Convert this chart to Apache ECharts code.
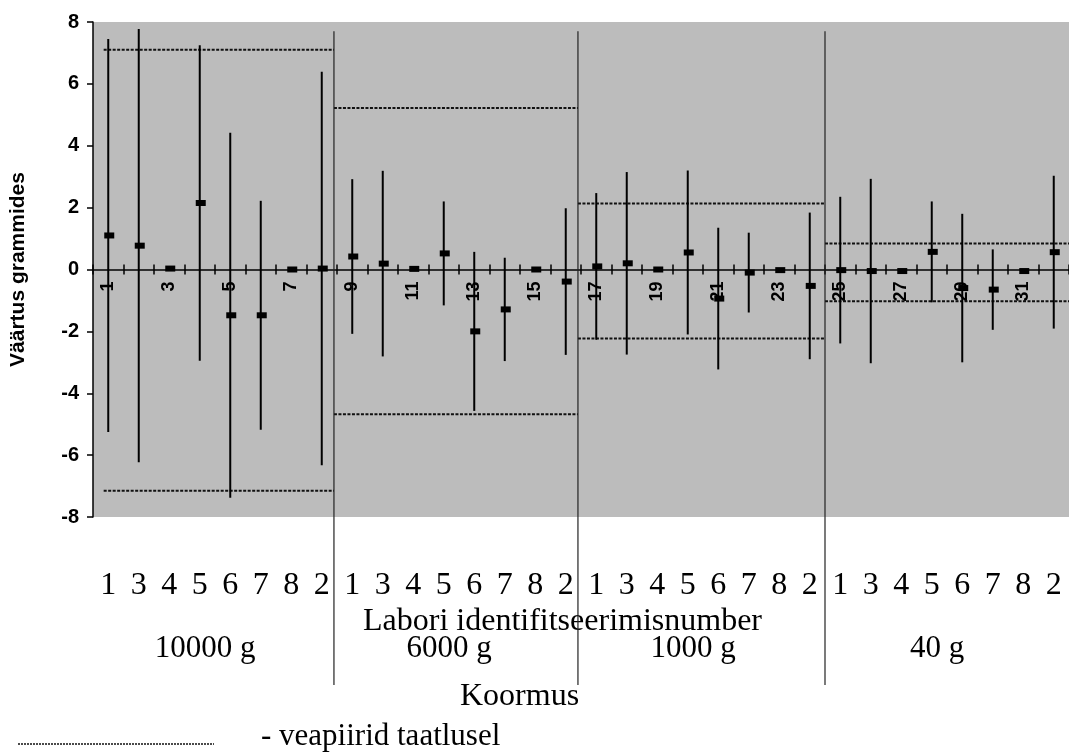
<!DOCTYPE html>
<html>
<head>
<meta charset="utf-8">
<script src="https://cdn.jsdelivr.net/npm/echarts@6/dist/echarts.min.js"></script>
<style>
html,body{margin:0;padding:0;background:#fff;}
#chart{width:1069px;height:752px;}
</style>
</head>
<body>
<div id="chart"></div>
<script>
// x tick labels (every other one is shown)
const tickLabels = ['1','2','3','4','5','6','7','8','9','10','11','12','13','14','15','16',
                    '17','18','19','20','21','22','23','24','25','26','27','28','29','30','31','32'];
// laboratory identification numbers under the axis
const labIds = ['1','3','4','5','6','7','8','2',
                '1','3','4','5','6','7','8','2',
                '1','3','4','5','6','7','8','2',
                '1','3','4','5','6','7','8','2'];
// loads (groups)
const loads = ['10000 g','6000 g','1000 g','40 g'];
// measured deviation (g)
const values = [1.10, 0.77, 0.03, 2.15, -1.48, -1.48, 0.00, 0.03,
                0.42, 0.19, 0.02, 0.52, -2.00, -1.29, 0.00, -0.39,
                0.10, 0.20, 0.00, 0.55, -0.94, -0.10, -0.02, -0.53,
                -0.02, -0.05, -0.05, 0.57, -0.60, -0.65, -0.05, 0.56];
// expanded uncertainty (g)
const errors = [6.35, 7.00, 0, 5.10, 5.90, 3.70, 0, 6.36,
                2.50, 3.00, 0, 1.68, 2.57, 1.67, 0, 2.37,
                2.37, 2.95, 0, 2.65, 2.29, 1.29, 0, 2.37,
                2.37, 2.98, 0, 1.63, 2.40, 1.30, 0, 2.47];
// verification error limits per load group
const limitUpper = [7.10, 5.22, 2.13, 0.84];
const limitLower = [-7.15, -4.68, -2.23, -1.03];
const limitStart = [0.35, 7.9, 15.9, 24];
const limitEnd = [7.9, 15.9, 24, 32];
// group separators (axis units) and their top value
const separators = [7.9, 15.9, 24];
const separatorTop = 7.7;

const legendName = '- veapiirid taatlusel';
const serif = '"Liberation Serif", "Times New Roman", serif';
const sans = '"Liberation Sans", Arial, sans-serif';

const GRID = {left: 86, top: 22, right: -9, bottom: 235};
const chartH = 752;
const zeroOffset = -(chartH - GRID.top - GRID.bottom) / 2; // move x axis up to y = 0

const chart = echarts.init(document.getElementById('chart'));

const limitSeries = [];
for (let g = 0; g < loads.length; g++) {
  [limitUpper[g], limitLower[g]].forEach(function (v) {
    limitSeries.push({
      name: legendName,
      type: 'line',
      xAxisIndex: 1,
      yAxisIndex: 0,
      symbol: 'none',
      silent: true,
      clip: true,
      lineStyle: {color: '#111', width: 2, type: [3, 1.5]},
      data: [[limitStart[g], v], [limitEnd[g], v]],
      z: 3
    });
  });
}

const option = {
  animation: false,
  backgroundColor: '#fff',
  grid: {
    left: GRID.left, top: GRID.top, right: GRID.right, bottom: GRID.bottom,
    show: true, backgroundColor: '#bcbcbc', borderWidth: 0
  },
  graphic: [
    {type: 'text', left: 363, top: 606, style: {text: 'Labori identifitseerimisnumber', font: '32px ' + serif, fill: '#000'}},
    {type: 'text', left: 460, top: 681, style: {text: 'Koormus', font: '32px ' + serif, fill: '#000'}},
    {type: 'line', shape: {x1: 18, y1: 744, x2: 214, y2: 744}, style: {stroke: '#111', lineWidth: 1.5, lineDash: [2, 1]}},
    {type: 'text', x: 261, y: 752, style: {text: legendName, font: '31px ' + serif, fill: '#000', verticalAlign: 'bottom'}}
  ],
  xAxis: [
    {
      type: 'category', data: tickLabels, position: 'bottom', offset: zeroOffset,
      axisLine: {onZero: false, lineStyle: {color: '#000', width: 1.5}},
      axisTick: {show: true, interval: 0, length: 5, lineStyle: {color: '#000', width: 1.5}},
      axisLabel: {interval: 1, rotate: 90, margin: 12, fontFamily: sans, fontWeight: 'bold', fontSize: 18, color: '#000'},
      splitLine: {show: false}
    },
    {
      type: 'value', min: 0, max: 32, interval: 1, position: 'bottom', offset: zeroOffset,
      axisLine: {show: false, onZero: false},
      axisTick: {show: true, inside: true, length: 5, lineStyle: {color: '#000', width: 1.5}},
      axisLabel: {show: false},
      splitLine: {show: false}
    },
    {
      type: 'category', data: labIds, position: 'bottom',
      axisLine: {show: false, onZero: false},
      axisTick: {show: false},
      axisLabel: {interval: 0, margin: 53, fontFamily: serif, fontSize: 32, color: '#000'},
      splitLine: {show: false}
    },
    {
      type: 'category', data: loads, position: 'bottom',
      axisLine: {show: false, onZero: false},
      axisTick: {show: false},
      axisLabel: {interval: 0, margin: 116, fontFamily: serif, fontSize: 31, color: '#000',
                  padding: [0, 20, 0, 0]},
      splitLine: {show: false}
    }
  ],
  yAxis: {
    type: 'value', min: -8, max: 8, interval: 2,
    name: 'Väärtus grammides', nameLocation: 'middle', nameGap: 64,
    nameTextStyle: {fontFamily: sans, fontWeight: 'bold', fontSize: 21, color: '#000'},
    axisLine: {show: true, lineStyle: {color: '#000', width: 1.5}},
    axisTick: {show: true, length: 6, lineStyle: {color: '#000', width: 1.5}},
    axisLabel: {margin: 14, fontFamily: sans, fontWeight: 'bold', fontSize: 20, color: '#000'},
    splitLine: {show: false}
  },
  series: limitSeries.concat([
    {
      type: 'custom',
      xAxisIndex: 1, yAxisIndex: 0,
      silent: true, clip: false, z: 5,
      data: separators.map(function (x) { return [x, separatorTop]; }),
      renderItem: function (params, api) {
        const top = api.coord([api.value(0), api.value(1)]);
        const bottomPx = api.coord([0, -8])[1] + 168;
        return {
          type: 'line',
          shape: {x1: top[0], y1: top[1], x2: top[0], y2: bottomPx},
          style: {stroke: '#222', lineWidth: 1.2}
        };
      }
    },
    {
      type: 'custom',
      xAxisIndex: 1, yAxisIndex: 0,
      silent: true, clip: false, z: 6,
      data: values.map(function (v, i) { return [i + 0.5, v, errors[i]]; }),
      renderItem: function (params, api) {
        const x = api.value(0), v = api.value(1), e = api.value(2);
        const p = api.coord([x, v]);
        const children = [];
        if (e > 0) {
          const a = api.coord([x, v + e]);
          const b = api.coord([x, v - e]);
          children.push({type: 'line', shape: {x1: a[0], y1: a[1], x2: b[0], y2: b[1]},
                         style: {stroke: '#000', lineWidth: 2}});
        }
        children.push({type: 'rect', shape: {x: p[0] - 4, y: p[1] - 3, width: 10, height: 6},
                       style: {fill: '#000'}});
        return {type: 'group', children: children};
      }
    }
  ])
};

chart.setOption(option);
</script>
</body>
</html>
